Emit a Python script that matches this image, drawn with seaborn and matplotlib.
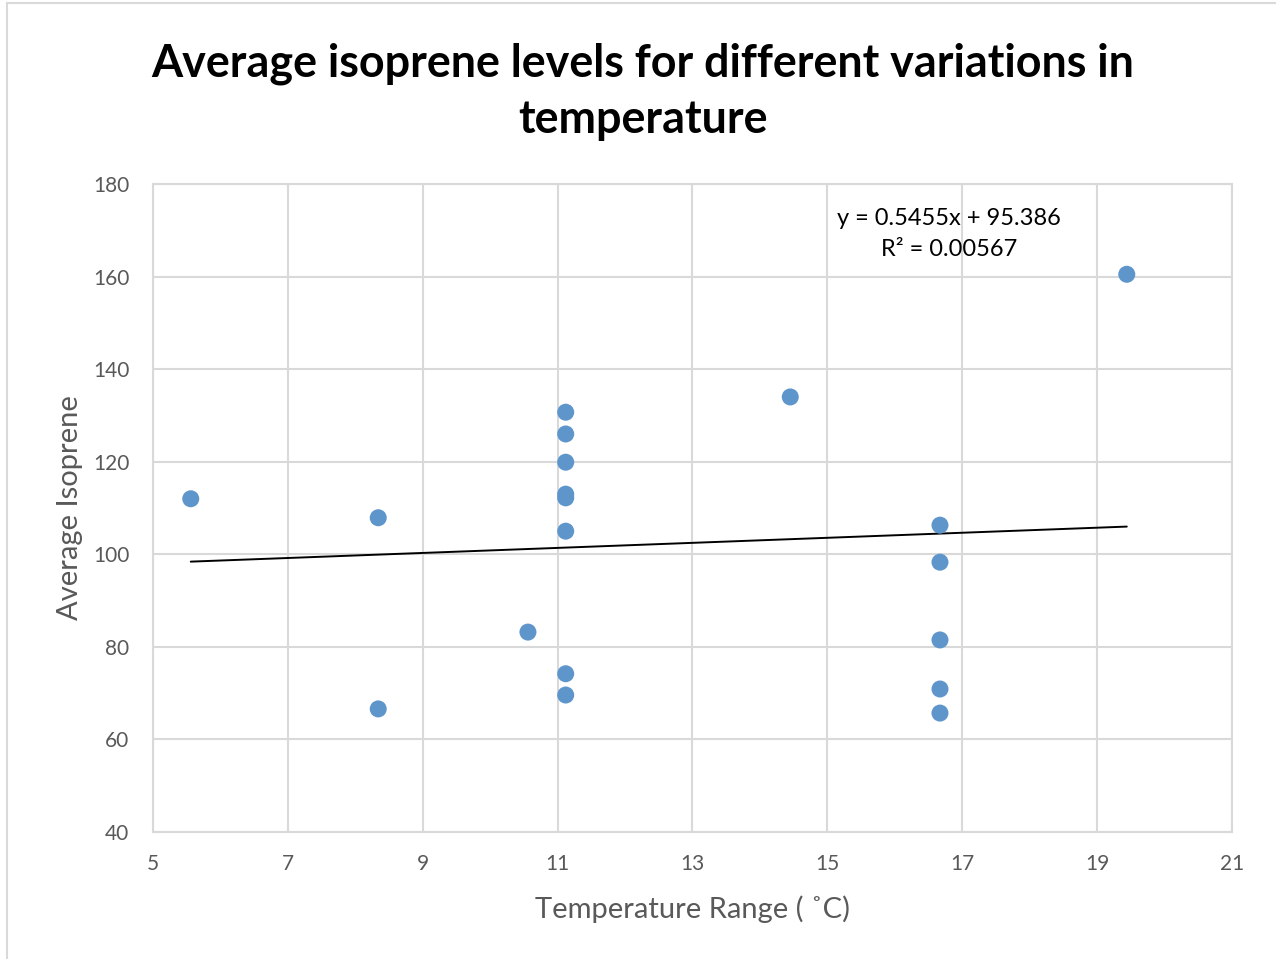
import numpy as np
import pandas as pd
import matplotlib
matplotlib.use('Agg')
import matplotlib.pyplot as plt
import seaborn as sbn
from matplotlib.lines import Line2D

# Данные
temp_range = [5.56, 8.34, 8.34, 10.56, 11.12, 11.12, 11.12, 11.12, 11.12, 11.12,
              11.12, 11.12, 14.45, 16.67, 16.67, 16.67, 16.67, 16.67, 19.44]
avg_isoprene = [112.0, 107.9, 66.6, 83.2, 130.7, 126.0, 119.9, 113.0, 112.2, 105.0,
                74.2, 69.6, 134.0, 106.3, 98.3, 81.5, 70.9, 65.7, 160.5]
slope, intercept, r_squared = 0.5455, 95.386, 0.00567
x_ticks = [5, 7, 9, 11, 13, 15, 17, 19, 21]
y_ticks = [40, 60, 80, 100, 120, 140, 160, 180]

df = pd.DataFrame({'temp': temp_range, 'iso': avg_isoprene})
x_line = np.array([min(temp_range), max(temp_range)])
trend = pd.DataFrame({'temp': x_line, 'iso': slope * x_line + intercept})

sbn.set_theme(style='white')
plt.rcParams['font.family'] = ['Lato', 'DejaVu Sans']

grid_col = '#D9D9D9'
text_col = '#595959'

fig = plt.figure(figsize=(12.76, 9.59), dpi=100)
ax = fig.add_axes([0.1199, 0.1324, 0.8456, 0.6757])

ax.grid(True, color=grid_col, linewidth=1.5)
ax.set_axisbelow(True)
sbn.lineplot(data=trend, x='temp', y='iso', color='black', linewidth=1.4, ax=ax, zorder=2)
sbn.scatterplot(data=df, x='temp', y='iso', color='#5E96CC', s=150, edgecolor='none', ax=ax, zorder=3)

ax.set_xlim(5, 21)
ax.set_ylim(40, 180)
ax.set_xticks(x_ticks)
ax.set_yticks(y_ticks)
ax.tick_params(axis='both', labelsize=15, labelcolor=text_col, length=0)
ax.tick_params(axis='x', pad=16)
ax.tick_params(axis='y', pad=17)
for s in ax.spines.values():
    s.set_color(grid_col)
    s.set_linewidth(1.5)

ax.set_xlabel('Temperature Range ( ˚C)', fontsize=21, color=text_col, labelpad=15)
ax.set_ylabel('Average Isoprene', fontsize=21, color=text_col, labelpad=7)

ax.text(0.7377, 0.9228, f'y = {slope}x + {intercept}\nR² = {r_squared}', transform=ax.transAxes,
        fontsize=17, color='black', ha='center', va='center', linespacing=1.6)

fig.text(0.504, 0.904, 'Average isoprene levels for different variations in\ntemperature',
         ha='center', va='center', fontsize=32.3, fontweight='bold', linespacing=1.42,
         color='black')

# рамка области диаграммы
fig.add_artist(Line2D([0.0055, 0.0055], [0, 0.997], color=grid_col, lw=1.5))
fig.add_artist(Line2D([0.0055, 1], [0.997, 0.997], color=grid_col, lw=1.5))

fig.savefig('out.png', dpi=100)
